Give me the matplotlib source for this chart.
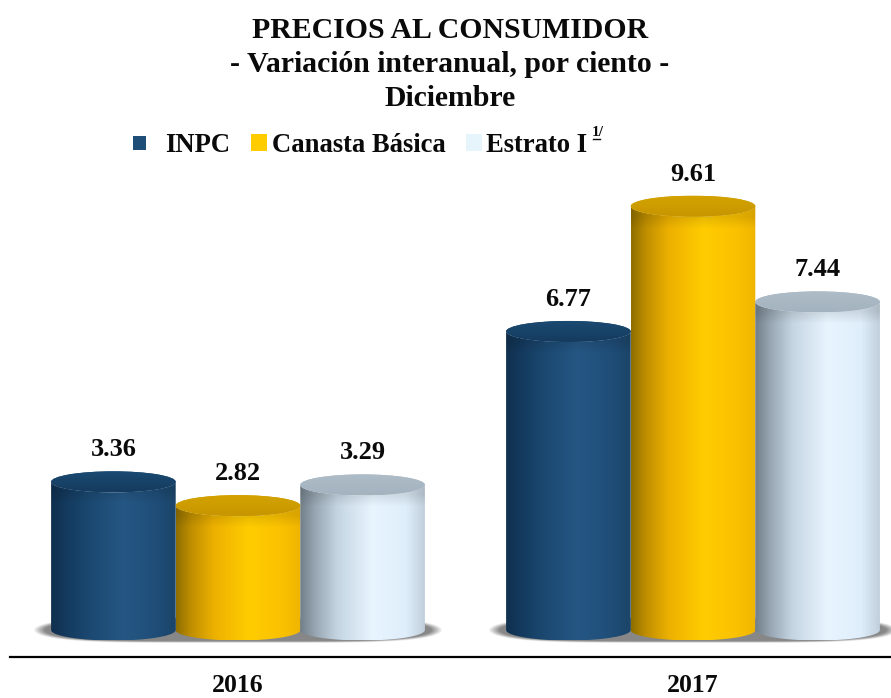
import numpy as np
import matplotlib
matplotlib.use("Agg")
import matplotlib.pyplot as plt
from matplotlib.patches import Ellipse, Rectangle, PathPatch
from matplotlib.path import Path
from matplotlib.colors import to_rgb

plt.rcParams['font.family'] = ['Liberation Serif', 'DejaVu Serif']

years = ['2016', '2017']
series = ['INPC', 'Canasta Básica', 'Estrato I']
inpc = [3.36, 6.77]
canasta = [2.82, 9.61]
estrato = [3.29, 7.44]
values = [inpc, canasta, estrato]

W, H = 891, 698
PX_Y = 44.1      # pixels per unit
PX_X = 455.0     # pixels between groups
Y0 = 630.0
X0 = 238.0
BAR_W = 124.6 / PX_X
RY = 10.5 / PX_Y

stops = [0, .12, .3, .58, .85, 1]
body = {
    'INPC': ['#10304e', '#143a5e', '#1b4870', '#255784', '#1f4d78', '#1b4568'],
    'Canasta Básica': ['#8f6e00', '#c08f00', '#ecb000', '#ffcc00', '#fac100', '#f0b500'],
    'Estrato I': ['#727f89', '#97a6b2', '#c5d5e2', '#e8f5ff', '#dfeefb', '#c0cfdb'],
}
cap_col = {'INPC': ('#153b5e', '#1b4a72'),
           'Canasta Básica': ('#c79600', '#d3a200'),
           'Estrato I': ('#a3b3bf', '#aebcc7')}
legend_col = {'INPC': '#1f4e79', 'Canasta Básica': '#ffcc00', 'Estrato I': '#e6f4fb'}

fig = plt.figure(figsize=(W / 100, H / 100), dpi=100, facecolor='white')
ax = fig.add_axes([0, 0, 1, 1])
ax.axis('off')


def gradient(name, n=200):
    cols = np.array([to_rgb(c) for c in body[name]])
    t = np.linspace(0, 1, n)
    return np.stack([np.interp(t, stops, cols[:, i]) for i in range(3)], axis=1)


# base shadows
for i in range(2):
    xs = np.linspace(-1, 1, 400)
    ys = np.linspace(-1, 1, 80)
    xx, yy = np.meshgrid(xs, ys)
    d = np.abs(xx) ** 5 + yy ** 2
    a = np.clip((1 - d) / 0.25, 0, 1) * 0.85
    img = np.zeros((80, 400, 4))
    img[..., :3] = 0.45
    img[..., 3] = a
    half = 205 / PX_X
    ax.imshow(img, extent=[i - half, i + half, -13 / PX_Y, 13 / PX_Y],
              aspect='auto', origin='lower', zorder=1, interpolation='bilinear')

# cylinders
for s, name in enumerate(series):
    for i, v in enumerate(values[s]):
        x0 = i + (s - 1.5) * BAR_W
        x1 = x0 + BAR_W
        xc = (x0 + x1) / 2
        grad = gradient(name)
        yg = np.linspace(-RY, v + RY, 300)
        shade = 1 - 0.10 * np.clip(1 - (v - RY - yg) / (12 / PX_Y), 0, 1)
        img = grad[None, :, :] * shade[:, None, None]
        im = ax.imshow(img, extent=[x0, x1, -RY, v + RY], aspect='auto',
                       origin='lower', zorder=2, interpolation='bilinear')
        th = np.linspace(np.pi, 2 * np.pi, 60)
        bx = xc + BAR_W / 2 * np.cos(th)
        by = RY * np.sin(th)
        th2 = np.linspace(0, np.pi, 60)
        tx = xc + BAR_W / 2 * np.cos(th2)
        ty = v - RY * np.sin(th2)
        verts = np.vstack([np.c_[bx, by], np.c_[tx, ty], [[x0, 0]]])
        clip = PathPatch(Path(verts), transform=ax.transData, fc='none', ec='none')
        ax.add_patch(clip)
        im.set_clip_path(clip)
        # top cap
        c_dark, c_mid = cap_col[name]
        cap = Ellipse((xc, v), BAR_W, 2 * RY, fc=c_mid, ec='none', zorder=3)
        ax.add_patch(cap)
        tt = np.linspace(0, 1, 40)[:, None, None]
        capimg = (np.array(to_rgb(c_dark))[None, None, :] * (1 - tt)
                  + np.array(to_rgb(c_mid))[None, None, :] * tt)
        imc = ax.imshow(capimg, extent=[x0, x1, v - RY, v + RY], aspect='auto',
                        origin='lower', zorder=3.1)
        imc.set_clip_path(cap)
        ax.text(xc, v + 32 / PX_Y, f'{v:.2f}', ha='center', va='center',
                fontsize=19, fontweight='bold', color='#0a0a0a', zorder=5)

# limits fixed after imshow
ax.set_xlim(-X0 / PX_X, (W - X0) / PX_X)
ax.set_ylim((Y0 - H) / PX_Y, Y0 / PX_Y)

# baseline and year labels
fx = lambda p: p / W
fy = lambda p: 1 - p / H
fig.add_artist(plt.Line2D([fx(10), fx(891)], [fy(657), fy(657)], color='black', lw=1.6))
for i, y in enumerate(years):
    ax.text(i, (Y0 - 686) / PX_Y, y, ha='center', va='center', fontsize=18.5,
            fontweight='bold', color='#0a0a0a')

# title
for txt, py in zip(['PRECIOS AL CONSUMIDOR', '- Variación interanual, por ciento -', 'Diciembre'],
                   [30, 65, 99]):
    fig.text(fx(450), fy(py), txt, ha='center', va='center', fontsize=21.4,
             fontweight='bold', color='#0a0a0a')

# legend
for name, (px, w, h, py), tx in zip(series,
                                    [(133, 13, 14.5, 135.5), (251, 16, 17, 134), (466, 16, 17, 134)],
                                    [165.5, 272, 486]):
    fig.add_artist(Rectangle((fx(px), fy(py + h)), w / W, h / H, transform=fig.transFigure,
                             fc=legend_col[name], ec='none'))
    fig.text(fx(tx), fy(145), name, ha='left', va='center', fontsize=19.2,
             fontweight='bold', color='#0a0a0a')
fig.text(fx(598), fy(133), '1/', ha='center', va='center', fontsize=11,
         fontweight='bold', color='#0a0a0a')
fig.add_artist(plt.Line2D([fx(593), fx(600)], [fy(139), fy(139)], color='#0a0a0a', lw=1))

fig.savefig('out.png', dpi=100, facecolor='white')
